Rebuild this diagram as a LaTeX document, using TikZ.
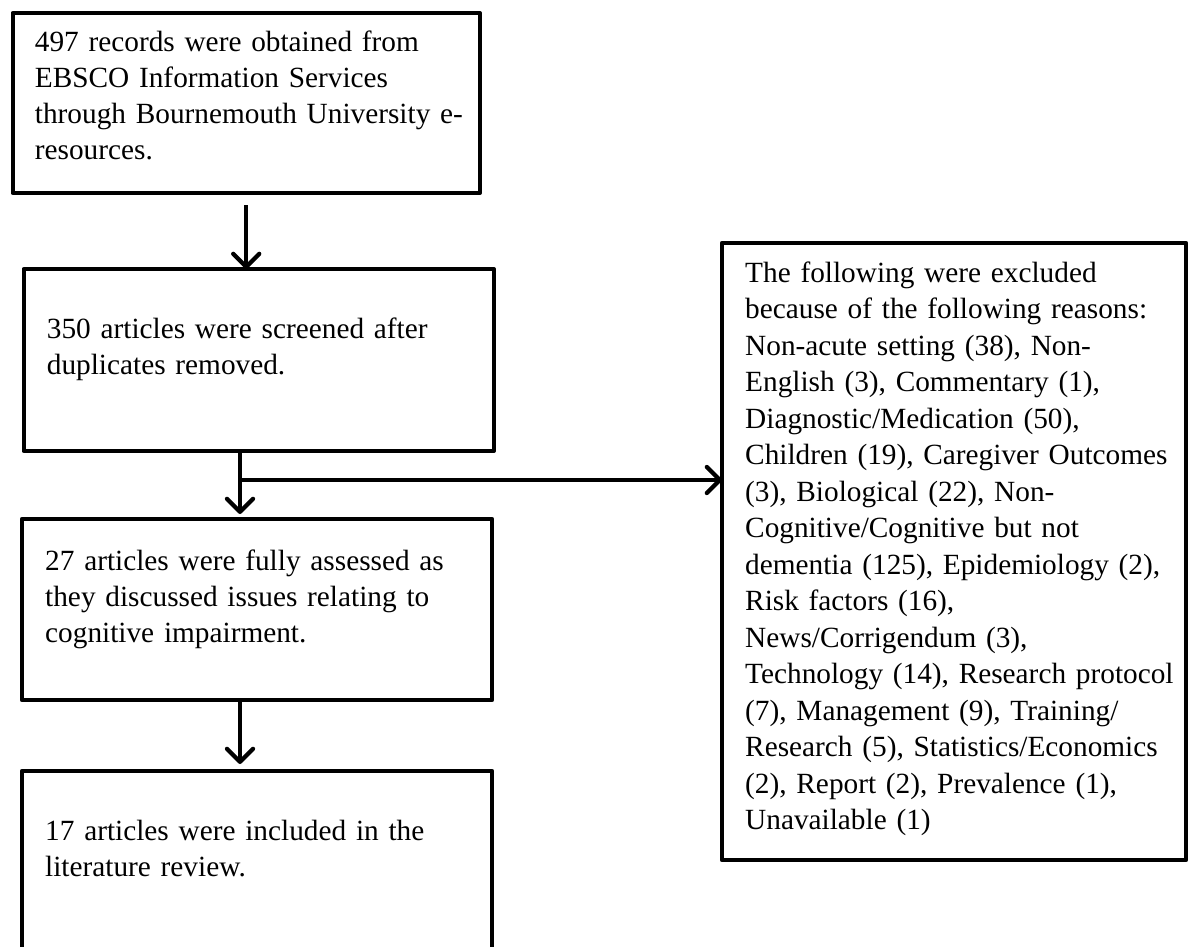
\documentclass[tikz,border=0pt]{standalone}
\usepackage{fontspec}
\setmainfont{Liberation Serif}
\usetikzlibrary{arrows.meta,calc}
\begin{document}
\begin{tikzpicture}[x=1pt,y=-1pt,
  boxframe/.style={draw=black, line width=4.3pt, line join=round, fill=white,
    inner sep=0pt, outer sep=0pt, anchor=north west},
  boxtext/.style={anchor=base west, inner sep=0pt, text width=440pt, align=left,
    font=\fontsize{29.3}{36}\selectfont},
  flow/.style={line width=4.3pt, -{Straight Barb[length=13pt,width=26pt,round]}}]

% page area
\path[use as bounding box, fill=white] (0,0) rectangle (1189,947);

% left column of stages
\node[boxframe, minimum width=467, minimum height=180] (b1) at (12.7,13) {};
\node[boxtext] (t1) at ($(b1.north west)+(22,39)$)
  {497 records were obtained from\\EBSCO Information Services\\through Bournemouth University e-\\resources.};

\node[boxframe, minimum width=470, minimum height=182] (b2) at (23.7,269) {};
\node[boxtext] (t2) at ($(b2.north west)+(23,69)$)
  {350 articles were screened after\\duplicates removed.};

\node[boxframe, minimum width=470, minimum height=181] (b3) at (22,519) {};
\node[boxtext] (t3) at ($(b3.north west)+(23,51)$)
  {27 articles were fully assessed as\\they discussed issues relating to\\cognitive impairment.};

\node[boxframe, minimum width=470, minimum height=220] (b4) at (22,771) {};
\node[boxtext] (t4) at ($(b4.north west)+(23,69)$)
  {17 articles were included in the\\literature review.};

% exclusions
\node[boxframe, minimum width=464, minimum height=617] (r) at (722,243) {};
\node[boxtext, font=\fontsize{29.3}{36.5}\selectfont] (tr) at ($(r.north west)+(23,39)$)
  {The following were excluded\\because of the following reasons:\\Non-acute setting (38), Non-\\English (3), Commentary (1),\\Diagnostic/Medication (50),\\Children (19), Caregiver Outcomes\\(3), Biological (22), Non-\\Cognitive/Cognitive but not\\dementia (125), Epidemiology (2),\\Risk factors (16),\\News/Corrigendum (3),\\Technology (14), Research protocol\\(7), Management (9), Training/\\Research (5), Statistics/Economics\\(2), Report (2), Prevalence (1),\\Unavailable (1)};

% connectors
\coordinate (j) at (240,480);
\draw[flow] ($(b1.south)+(0,12)$) -- (b1.south |- b2.north);
\draw[flow, shorten >=5pt] (b2.south -| j) -- (b3.north -| j);
\draw[flow] (j) -- (r.west |- j);
\draw[flow, shorten >=7pt] (b3.south -| j) -- (b4.north -| j);
\end{tikzpicture}
\end{document}
